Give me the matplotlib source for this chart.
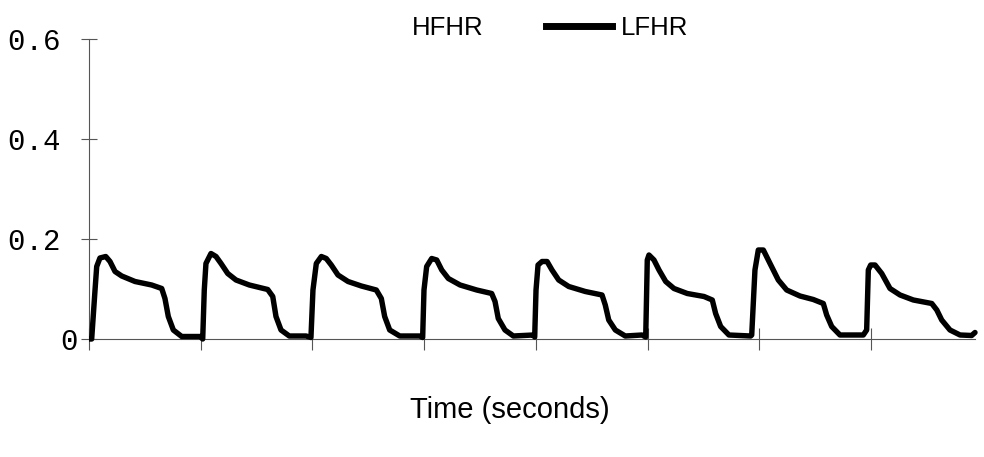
"""Low-frequency heart-rate trace over eight beats."""

import matplotlib

matplotlib.use("Agg")

import matplotlib.pyplot as plt
from matplotlib.lines import Line2D

# LFHR trace, one (time, value) list pair per beat
BEAT_TIMES = [
    [0.000, 0.024, 0.054, 0.069, 0.098, 0.150, 0.188, 0.233, 0.293, 0.412, 0.561, 0.651, 0.680, 0.710, 0.755, 0.830, 0.994],
    [1.018, 1.032, 1.047, 1.092, 1.137, 1.182, 1.242, 1.316, 1.435, 1.600, 1.645, 1.674, 1.719, 1.793, 1.943],
    [1.987, 2.005, 2.035, 2.080, 2.124, 2.169, 2.229, 2.319, 2.438, 2.572, 2.617, 2.647, 2.692, 2.782, 2.961],
    [2.987, 2.999, 3.023, 3.068, 3.113, 3.158, 3.217, 3.322, 3.471, 3.605, 3.635, 3.664, 3.724, 3.799, 3.978],
    [3.990, 4.002, 4.020, 4.056, 4.101, 4.145, 4.205, 4.295, 4.443, 4.593, 4.622, 4.653, 4.712, 4.801, 4.951],
    [4.984, 4.991, 4.998, 5.013, 5.058, 5.103, 5.163, 5.237, 5.356, 5.506, 5.580, 5.610, 5.655, 5.729, 5.924],
    [5.933, 5.962, 5.992, 6.037, 6.097, 6.171, 6.246, 6.365, 6.484, 6.574, 6.604, 6.649, 6.723, 6.932],
    [6.962, 6.977, 6.998, 7.037, 7.097, 7.171, 7.261, 7.380, 7.545, 7.590, 7.634, 7.708, 7.798, 7.902, 7.932],
]
BEAT_VALUES = [
    [0.000, 0.000, 0.098, 0.145, 0.162, 0.165, 0.155, 0.135, 0.126, 0.115, 0.108, 0.101, 0.081, 0.045, 0.018, 0.005, 0.005],
    [0.000, 0.098, 0.151, 0.171, 0.165, 0.151, 0.131, 0.118, 0.108, 0.099, 0.085, 0.045, 0.018, 0.006, 0.006],
    [0.003, 0.098, 0.151, 0.165, 0.161, 0.148, 0.128, 0.115, 0.106, 0.098, 0.081, 0.045, 0.018, 0.006, 0.006],
    [0.003, 0.098, 0.145, 0.161, 0.158, 0.138, 0.121, 0.108, 0.098, 0.091, 0.075, 0.041, 0.018, 0.006, 0.008],
    [0.004, 0.098, 0.148, 0.155, 0.155, 0.138, 0.118, 0.105, 0.095, 0.088, 0.068, 0.038, 0.018, 0.006, 0.008],
    [0.004, 0.080, 0.158, 0.168, 0.158, 0.138, 0.115, 0.101, 0.091, 0.085, 0.078, 0.051, 0.025, 0.008, 0.006],
    [0.008, 0.138, 0.178, 0.178, 0.151, 0.118, 0.098, 0.086, 0.079, 0.071, 0.048, 0.025, 0.008, 0.008],
    [0.018, 0.138, 0.148, 0.148, 0.131, 0.101, 0.088, 0.078, 0.071, 0.058, 0.038, 0.018, 0.008, 0.007, 0.013],
]

Y_TICKS = [0.0, 0.2, 0.4, 0.6]
Y_TICK_LABELS = ["0", "0.2 ", "0.4 ", "0.6 "]
X_TICKS = [0, 1, 2, 3, 4, 5, 6, 7]

AXIS_COLOR = "#555555"


def build_trace():
    times, values = [], []
    for t, v in zip(BEAT_TIMES, BEAT_VALUES):
        times.extend(t)
        values.extend(v)
    return times, values


def main():
    times, values = build_trace()

    fig = plt.figure(figsize=(9.84, 4.57), dpi=100)
    ax = fig.add_axes([89 / 984, 98 / 457, 893.6 / 984, 340 / 457])

    ax.plot(times, values, color="black", linewidth=3.9,
            solid_joinstyle="round", solid_capstyle="round", zorder=3)

    ax.set_xlim(0, 8.0)
    ax.set_ylim(-0.04, 0.64)

    for side in ["top", "right"]:
        ax.spines[side].set_visible(False)
    ax.spines["left"].set_bounds(0, 0.6)
    ax.spines["bottom"].set_bounds(0, times[-1])
    ax.spines["bottom"].set_position(("data", 0))
    for side in ["left", "bottom"]:
        ax.spines[side].set_color(AXIS_COLOR)
        ax.spines[side].set_linewidth(0.8)

    ax.set_yticks(Y_TICKS)
    ax.set_yticklabels(Y_TICK_LABELS, family="Liberation Mono", fontsize=21)
    ax.tick_params(axis="y", direction="inout", length=12, width=0.8,
                   color=AXIS_COLOR, pad=2)
    ax.set_xticks(X_TICKS)
    ax.set_xticklabels([])
    ax.tick_params(axis="x", direction="inout", length=16, width=0.8,
                   color=AXIS_COLOR)

    ax.set_xlabel("Time (seconds)", family="Liberation Sans", fontsize=21)
    ax.xaxis.set_label_coords(0.471, -0.11)

    handles = [
        Line2D([], [], color="none", linewidth=5),
        Line2D([], [], color="black", linewidth=5),
    ]
    ax.legend(handles, ["HFHR", "LFHR"], ncol=2, frameon=False,
              loc="upper center", bbox_to_anchor=(0.474, 1.078),
              prop={"family": "Liberation Sans", "size": 18.5},
              handlelength=2.6, handletextpad=0.35, columnspacing=2.4)

    fig.savefig("out.png", dpi=100, facecolor="white")
    plt.close(fig)


if __name__ == "__main__":
    main()
